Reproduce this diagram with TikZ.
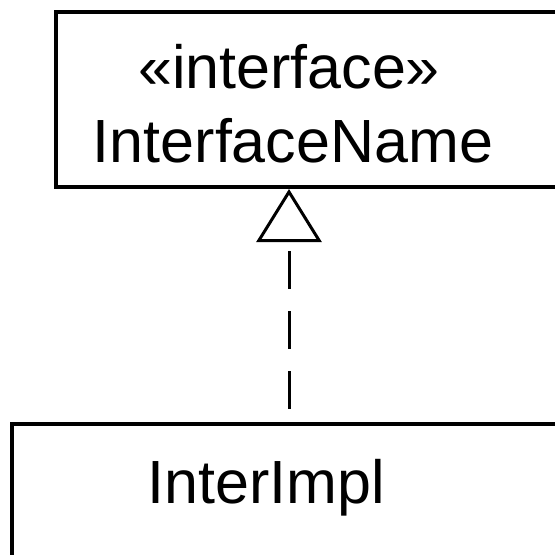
\documentclass[tikz,border=0pt]{standalone}
\usepackage{fontspec}
\setmainfont{Liberation Sans}
\usetikzlibrary{arrows.meta}
\begin{document}
\begin{tikzpicture}[x=0.5pt,y=-0.5pt,
  classbox/.style={draw,line width=2pt,rectangle,inner sep=0pt},
  txt/.style={font=\fontsize{30.5}{36.6}\selectfont,inner sep=0pt,anchor=base},
  realize/.style={line width=1.5pt,dash pattern=on 19pt off 11pt,dash phase=23.5pt,
    -{Triangle[open,length=26.5pt,width=32.5pt,line width=1.5pt]}}]
\useasboundingbox (0,0) rectangle (555,554);
\clip (0,0) rectangle (555,554);
\node[classbox,minimum width=282pt,minimum height=87.5pt] (iface) at (338,99.5) {};
\node[txt] (stereo) at (289,88) {«interface»};
\node[txt] (ifname) at (293,162) {InterfaceName};
\node[classbox,minimum width=304pt,minimum height=108pt] (impl) at (316,531.5) {};
\node[txt] (implname) at (266.5,503) {InterImpl};
\coordinate (axis) at (289,300);
\draw[realize] (impl.north -| axis) -- (iface.south -| axis);
\end{tikzpicture}
\end{document}
